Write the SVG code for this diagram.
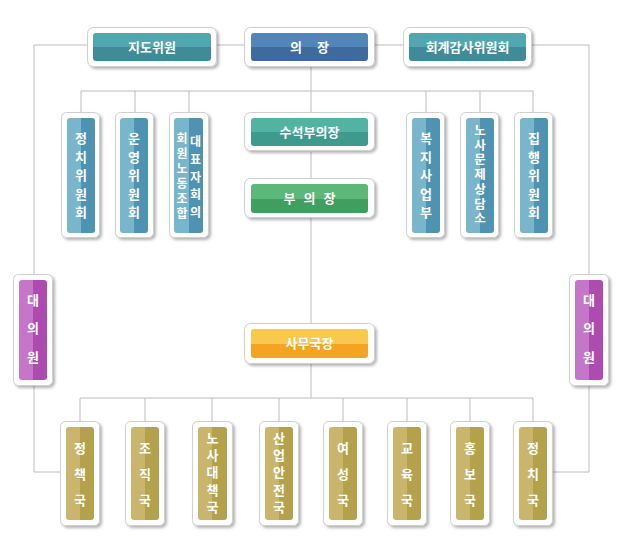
<svg xmlns="http://www.w3.org/2000/svg" width="624" height="554" viewBox="0 0 624 554">
<defs>
<filter id="sh" x="-20%" y="-20%" width="150%" height="150%">
<feGaussianBlur in="SourceAlpha" stdDeviation="1.5"/>
<feOffset dx="2" dy="2" result="b"/>
<feComponentTransfer><feFuncA type="linear" slope="0.3"/></feComponentTransfer>
<feMerge><feMergeNode/><feMergeNode in="SourceGraphic"/></feMerge>
</filter>
<linearGradient id="gTeal" x1="0" y1="0" x2="0" y2="1"><stop offset="0.5" stop-color="#52a6b0"/><stop offset="0.5" stop-color="#3f8b99"/></linearGradient>
<linearGradient id="gBlue" x1="0" y1="0" x2="0" y2="1"><stop offset="0.5" stop-color="#5286b8"/><stop offset="0.5" stop-color="#3f6a9e"/></linearGradient>
<linearGradient id="gSea" x1="0" y1="0" x2="0" y2="1"><stop offset="0.5" stop-color="#52b3a3"/><stop offset="0.5" stop-color="#3d9a8c"/></linearGradient>
<linearGradient id="gGreen" x1="0" y1="0" x2="0" y2="1"><stop offset="0.5" stop-color="#5cb878"/><stop offset="0.5" stop-color="#409e5e"/></linearGradient>
<linearGradient id="gOrange" x1="0" y1="0" x2="0" y2="1"><stop offset="0.5" stop-color="#f8c94c"/><stop offset="0.5" stop-color="#f4a322"/></linearGradient>
<linearGradient id="vBlue" x1="0" y1="0" x2="1" y2="0"><stop offset="0.5" stop-color="#79b6cb"/><stop offset="0.5" stop-color="#4f93b3"/></linearGradient>
<linearGradient id="vPurple" x1="0" y1="0" x2="1" y2="0"><stop offset="0.5" stop-color="#c676c9"/><stop offset="0.5" stop-color="#ae4bb0"/></linearGradient>
<linearGradient id="vGold" x1="0" y1="0" x2="1" y2="0"><stop offset="0.5" stop-color="#cab56d"/><stop offset="0.5" stop-color="#b4a14b"/></linearGradient>
</defs>
<style>
.o{fill:#fff;stroke:#cfcfcf;stroke-width:1;filter:url(#sh)}
.t{fill:#fff;font-family:"Noto Sans CJK KR","Noto Sans",sans-serif;font-weight:bold;font-size:13px;text-anchor:middle}
.v{writing-mode:vertical-rl;text-orientation:upright}
.c line,.c polyline{stroke:#bdbdbd;stroke-width:1;fill:none}
</style>
<g class="c" id="connectors">
<polyline points="87,45 34,45 34,275"/>
<line x1="217" y1="45" x2="244" y2="45"/>
<line x1="375" y1="45" x2="403" y2="45"/>
<polyline points="532,45 589,45 589,275"/>
<line x1="311" y1="67" x2="311" y2="112"/>
<line x1="81" y1="91" x2="533" y2="91"/>
<line x1="81" y1="91" x2="81" y2="113"/>
<line x1="135" y1="91" x2="135" y2="113"/>
<line x1="189" y1="91" x2="189" y2="113"/>
<line x1="426" y1="91" x2="426" y2="113"/>
<line x1="480" y1="91" x2="480" y2="113"/>
<line x1="533" y1="91" x2="533" y2="113"/>
<line x1="311" y1="152" x2="311" y2="178"/>
<line x1="311" y1="218" x2="311" y2="323"/>
<line x1="311" y1="364" x2="311" y2="398"/>
<line x1="80" y1="398" x2="533" y2="398"/>
<line x1="80" y1="398" x2="80" y2="421"/>
<line x1="145" y1="398" x2="145" y2="421"/>
<line x1="212" y1="398" x2="212" y2="421"/>
<line x1="279" y1="398" x2="279" y2="421"/>
<line x1="343" y1="398" x2="343" y2="421"/>
<line x1="407" y1="398" x2="407" y2="421"/>
<line x1="470" y1="398" x2="470" y2="421"/>
<line x1="533" y1="398" x2="533" y2="421"/>
<polyline points="34,386 34,472 60,472"/>
<polyline points="589,386 589,472 553,472"/>
</g>
<g id="jidowiwon"><rect class="o" x="87.5" y="27.5" width="129" height="39" rx="6"/><rect x="93" y="33" width="118" height="28" rx="3" fill="url(#gTeal)"/><text class="t" x="152" y="52">지도위원</text></g>
<g id="uijang"><rect class="o" x="244.5" y="27.5" width="130" height="39" rx="6"/><rect x="251" y="33" width="117" height="28" rx="3" fill="url(#gBlue)"/><text class="t" x="309.5" y="52" style="word-spacing:12px">의 장</text></g>
<g id="hoegye"><rect class="o" x="403.5" y="27.5" width="128" height="39" rx="6"/><rect x="409" y="33" width="117" height="28" rx="3" fill="url(#gTeal)"/><text class="t" x="467.5" y="52">회계감사위원회</text></g>
<g id="suseok"><rect class="o" x="244.5" y="112.5" width="130" height="38" rx="6"/><rect x="251" y="118" width="117" height="28" rx="3" fill="url(#gSea)"/><text class="t" x="309.5" y="137">수석부의장</text></g>
<g id="buuijang"><rect class="o" x="244.5" y="178.5" width="130" height="39" rx="6"/><rect x="251" y="184" width="117" height="29" rx="3" fill="url(#gGreen)"/><text class="t" x="309.5" y="203" style="word-spacing:5px">부 의 장</text></g>
<g id="samuguk"><rect class="o" x="244.5" y="323.5" width="130" height="40" rx="6"/><rect x="251" y="329" width="117" height="29" rx="3" fill="url(#gOrange)"/><text class="t" x="309.5" y="348">사무국장</text></g>
<g id="jeongchi-wiwonhoe"><rect class="o" x="61.5" y="112.5" width="38" height="125" rx="5"/><rect x="67" y="118" width="28" height="115" rx="3" fill="url(#vBlue)"/><text class="t v" x="81" y="178" style="letter-spacing:5.5px">정치위원회</text></g>
<g id="unyeong"><rect class="o" x="115.5" y="112.5" width="38" height="125" rx="5"/><rect x="120" y="118" width="28" height="115" rx="3" fill="url(#vBlue)"/><text class="t v" x="134" y="178" style="letter-spacing:5.5px">운영위원회</text></g>
<g id="daepyo"><rect class="o" x="169.5" y="112.5" width="39" height="125" rx="5"/><rect x="174" y="118" width="29" height="115" rx="3" fill="url(#vBlue)"/><text class="t v" x="182" y="177" style="font-size:12px;letter-spacing:3px">회원노동조합</text><text class="t v" x="195.5" y="180" style="font-size:12px;letter-spacing:5.7px">대표자회의</text></g>
<g id="bokji"><rect class="o" x="406.5" y="112.5" width="38" height="125" rx="5"/><rect x="412" y="118" width="28" height="115" rx="3" fill="url(#vBlue)"/><text class="t v" x="426" y="178" style="letter-spacing:5.5px">복지사업부</text></g>
<g id="nosa-sangdam"><rect class="o" x="460.5" y="112.5" width="38" height="125" rx="5"/><rect x="466" y="118" width="28" height="115" rx="3" fill="url(#vBlue)"/><text class="t v" x="480" y="175.5" style="font-size:12.5px;letter-spacing:2.2px">노사문제상담소</text></g>
<g id="jiphaeng"><rect class="o" x="514.5" y="112.5" width="38" height="125" rx="5"/><rect x="520" y="118" width="28" height="115" rx="3" fill="url(#vBlue)"/><text class="t v" x="534" y="178" style="letter-spacing:5.5px">집행위원회</text></g>
<g id="daeuiwon-left"><rect class="o" x="13.5" y="274.5" width="39" height="111" rx="5"/><rect x="19" y="280" width="28" height="100" rx="3" fill="url(#vPurple)"/><text class="t v" x="33" y="336" style="letter-spacing:15.5px">대의원</text></g>
<g id="daeuiwon-right"><rect class="o" x="569.5" y="274.5" width="39" height="111" rx="5"/><rect x="575" y="280" width="28" height="100" rx="3" fill="url(#vPurple)"/><text class="t v" x="589" y="336" style="letter-spacing:15.5px">대의원</text></g>
<g id="jeongchaek"><rect class="o" x="60.5" y="421.5" width="39" height="104" rx="5"/><rect x="66" y="427" width="28" height="93" rx="3" fill="url(#vGold)"/><text class="t v" x="80" y="480.5" style="letter-spacing:13px">정책국</text></g>
<g id="jojik"><rect class="o" x="125.5" y="421.5" width="39" height="104" rx="5"/><rect x="131" y="427" width="28" height="93" rx="3" fill="url(#vGold)"/><text class="t v" x="145" y="480.5" style="letter-spacing:13px">조직국</text></g>
<g id="nosadaechaek"><rect class="o" x="192.5" y="421.5" width="40" height="104" rx="5"/><rect x="198" y="427" width="29" height="93" rx="3" fill="url(#vGold)"/><text class="t v" x="212.5" y="474.5" style="letter-spacing:4.3px">노사대책국</text></g>
<g id="saneopanjeon"><rect class="o" x="259.5" y="421.5" width="39" height="104" rx="5"/><rect x="265" y="427" width="28" height="93" rx="3" fill="url(#vGold)"/><text class="t v" x="279" y="474.5" style="letter-spacing:4.3px">산업안전국</text></g>
<g id="yeoseong"><rect class="o" x="323.5" y="421.5" width="39" height="104" rx="5"/><rect x="329" y="427" width="28" height="93" rx="3" fill="url(#vGold)"/><text class="t v" x="343" y="480.5" style="letter-spacing:13px">여성국</text></g>
<g id="gyoyuk"><rect class="o" x="387.5" y="421.5" width="39" height="104" rx="5"/><rect x="393" y="427" width="28" height="93" rx="3" fill="url(#vGold)"/><text class="t v" x="407" y="480.5" style="letter-spacing:13px">교육국</text></g>
<g id="hongbo"><rect class="o" x="450.5" y="421.5" width="39" height="104" rx="5"/><rect x="456" y="427" width="28" height="93" rx="3" fill="url(#vGold)"/><text class="t v" x="470" y="480.5" style="letter-spacing:13px">홍보국</text></g>
<g id="jeongchi-guk"><rect class="o" x="513.5" y="421.5" width="39" height="104" rx="5"/><rect x="519" y="427" width="28" height="93" rx="3" fill="url(#vGold)"/><text class="t v" x="533" y="480.5" style="letter-spacing:13px">정치국</text></g>
</svg>
